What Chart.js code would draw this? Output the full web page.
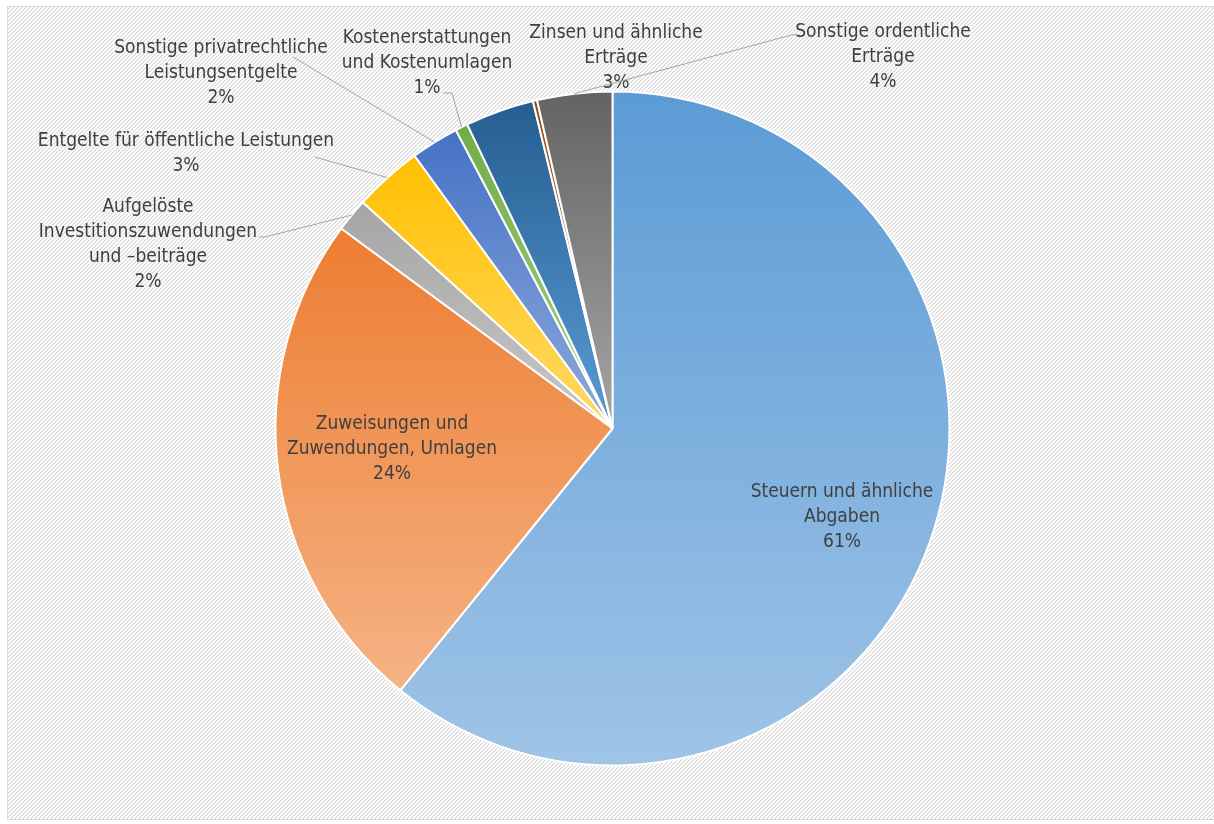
<!DOCTYPE html>
<html lang="de">
<head>
<meta charset="utf-8">
<title>Ordentliche Erträge</title>
<script src="https://cdn.jsdelivr.net/npm/chart.js@4.4.1/dist/chart.umd.min.js"></script>
<style>
  html, body { margin: 0; padding: 0; background: #fff; }
  #wrap { position: relative; width: 1214px; height: 824px; }
</style>
</head>
<body>
<div id="wrap"><canvas id="chart"></canvas></div>
<script>
// --- data ---
const categories = [
  ['Steuern und ähnliche', 'Abgaben'],
  ['Zuweisungen und', 'Zuwendungen, Umlagen'],
  ['Aufgelöste', 'Investitionszuwendungen', 'und –beiträge'],
  ['Entgelte für öffentliche Leistungen'],
  ['Sonstige privatrechtliche', 'Leistungsentgelte'],
  ['Kostenerstattungen', 'und Kostenumlagen'],
  ['Zinsen und ähnliche', 'Erträge'],
  ['Aktivierte Eigenleistungen'],
  ['Sonstige ordentliche', 'Erträge']
];
const values = [60.9, 24.3, 1.6, 3.3, 2.3, 0.6, 3.3, 0.2, 3.6];

// gradient stops per slice (top -> bottom)
const colorsTop = ['#5B9BD5', '#ED7D31', '#A5A5A5', '#FFC000', '#4472C4', '#70AD47', '#255E91', '#9E480E', '#636363'];
const colorsBottom = ['#9FC4E7', '#F5B385', '#C8C8C8', '#FFD966', '#8FAADC', '#A9D18E', '#5B9BD5', '#D08A5A', '#A6A6A6'];

// label placement relative to the pie centre; leader = polyline start points (end is on the slice edge)
const labelPos = [
  { dx: 229.5, dy: 88.5 },
  { dx: -220.5, dy: 20.5 },
  { dx: -464.5, dy: -183.5, leader: [[-353.5, -191.5], [-347.5, -191.5]] },
  { dx: -426.5, dy: -275, leader: [[-297.5, -271.5]] },
  { dx: -391.5, dy: -355, leader: [[-319.5, -371.5]] },
  { dx: -185.5, dy: -365.5, leader: [[-169.5, -335.5], [-160.5, -335.5]] },
  { dx: 3.5, dy: -370 },
  null,
  { dx: 270.5, dy: -371.5, leader: [[183.5, -394], [179, -393.5]] }
];

const TEXT_COLOR = '#404040';
const LEADER_COLOR = '#A6A6A6';
const FONT = '19px "DejaVu Sans Condensed", "Liberation Sans", sans-serif';
const LINE_H = 25;

// hatched plot background with light frame
const hatchPlugin = {
  id: 'hatch',
  beforeDraw(chart) {
    const { ctx, width, height } = chart;
    const tile = document.createElement('canvas');
    tile.width = 4; tile.height = 4;
    const t = tile.getContext('2d');
    t.fillStyle = '#ffffff';
    t.fillRect(0, 0, 4, 4);
    t.fillStyle = '#e2e2e2';
    for (let x = 0; x < 4; x++) {
      for (let y = 0; y < 4; y++) {
        if ((x + y) % 4 < 2) t.fillRect(x, y, 1, 1);
      }
    }
    ctx.save();
    ctx.fillStyle = '#ffffff';
    ctx.fillRect(0, 0, width, height);
    ctx.fillStyle = ctx.createPattern(tile, 'repeat');
    ctx.fillRect(8, 7, width - 8, 812);
    ctx.strokeStyle = '#D9D9D9';
    ctx.lineWidth = 1;
    ctx.strokeRect(7.5, 6.5, width, 813);
    ctx.restore();
  }
};

// per-slice vertical gradient over the slice's bounding box
function sliceBounds(arc) {
  const { x, y, startAngle, endAngle, outerRadius: r } = arc;
  const ys = [y, y + r * Math.sin(startAngle), y + r * Math.sin(endAngle)];
  for (let k = -1; k <= 3; k++) {
    const a = k * Math.PI / 2;
    if (a > startAngle && a < endAngle) ys.push(y + r * Math.sin(a));
  }
  return { top: Math.min(...ys), bottom: Math.max(...ys) };
}

const gradientPlugin = {
  id: 'sliceGradient',
  beforeDatasetsDraw(chart) {
    const { ctx } = chart;
    chart.getDatasetMeta(0).data.forEach((arc, i) => {
      const b = sliceBounds(arc);
      const g = ctx.createLinearGradient(0, b.top, 0, Math.max(b.bottom, b.top + 1));
      g.addColorStop(0, colorsTop[i]);
      g.addColorStop(1, colorsBottom[i]);
      arc.options = Object.assign({}, arc.options, { backgroundColor: g });
    });
  }
};

const labelPlugin = {
  id: 'sliceLabels',
  afterDatasetsDraw(chart) {
    const { ctx } = chart;
    const total = values.reduce((a, b) => a + b, 0);
    chart.getDatasetMeta(0).data.forEach((arc, i) => {
      const pos = labelPos[i];
      if (!pos) return;
      const { x: cx, y: cy, outerRadius: r, startAngle, endAngle } = arc;
      ctx.save();
      if (pos.leader) {
        const mid = (startAngle + endAngle) / 2;
        ctx.strokeStyle = LEADER_COLOR;
        ctx.lineWidth = 1;
        ctx.beginPath();
        pos.leader.forEach((p, k) => {
          if (k === 0) ctx.moveTo(cx + p[0], cy + p[1]);
          else ctx.lineTo(cx + p[0], cy + p[1]);
        });
        ctx.lineTo(cx + r * Math.cos(mid), cy + r * Math.sin(mid));
        ctx.stroke();
      }
      const lines = [...categories[i], Math.round(values[i] / total * 100) + '%'];
      ctx.font = FONT;
      ctx.fillStyle = TEXT_COLOR;
      ctx.textAlign = 'center';
      ctx.textBaseline = 'middle';
      const top = cy + pos.dy - (lines.length - 1) * LINE_H / 2;
      lines.forEach((txt, k) => ctx.fillText(txt, cx + pos.dx, top + k * LINE_H));
      ctx.restore();
    });
  }
};

new Chart(document.getElementById('chart'), {
  type: 'pie',
  data: {
    labels: categories,
    datasets: [{
      data: values,
      backgroundColor: colorsTop,
      borderColor: '#ffffff',
      borderWidth: 2,
      hoverOffset: 0
    }]
  },
  options: {
    responsive: true,
    maintainAspectRatio: false,
    animation: false,
    layout: { padding: { top: 90.5, bottom: 57.5, left: 11, right: 0 } },
    plugins: {
      legend: { display: false },
      tooltip: { enabled: false }
    }
  },
  plugins: [hatchPlugin, gradientPlugin, labelPlugin]
});
</script>
</body>
</html>
